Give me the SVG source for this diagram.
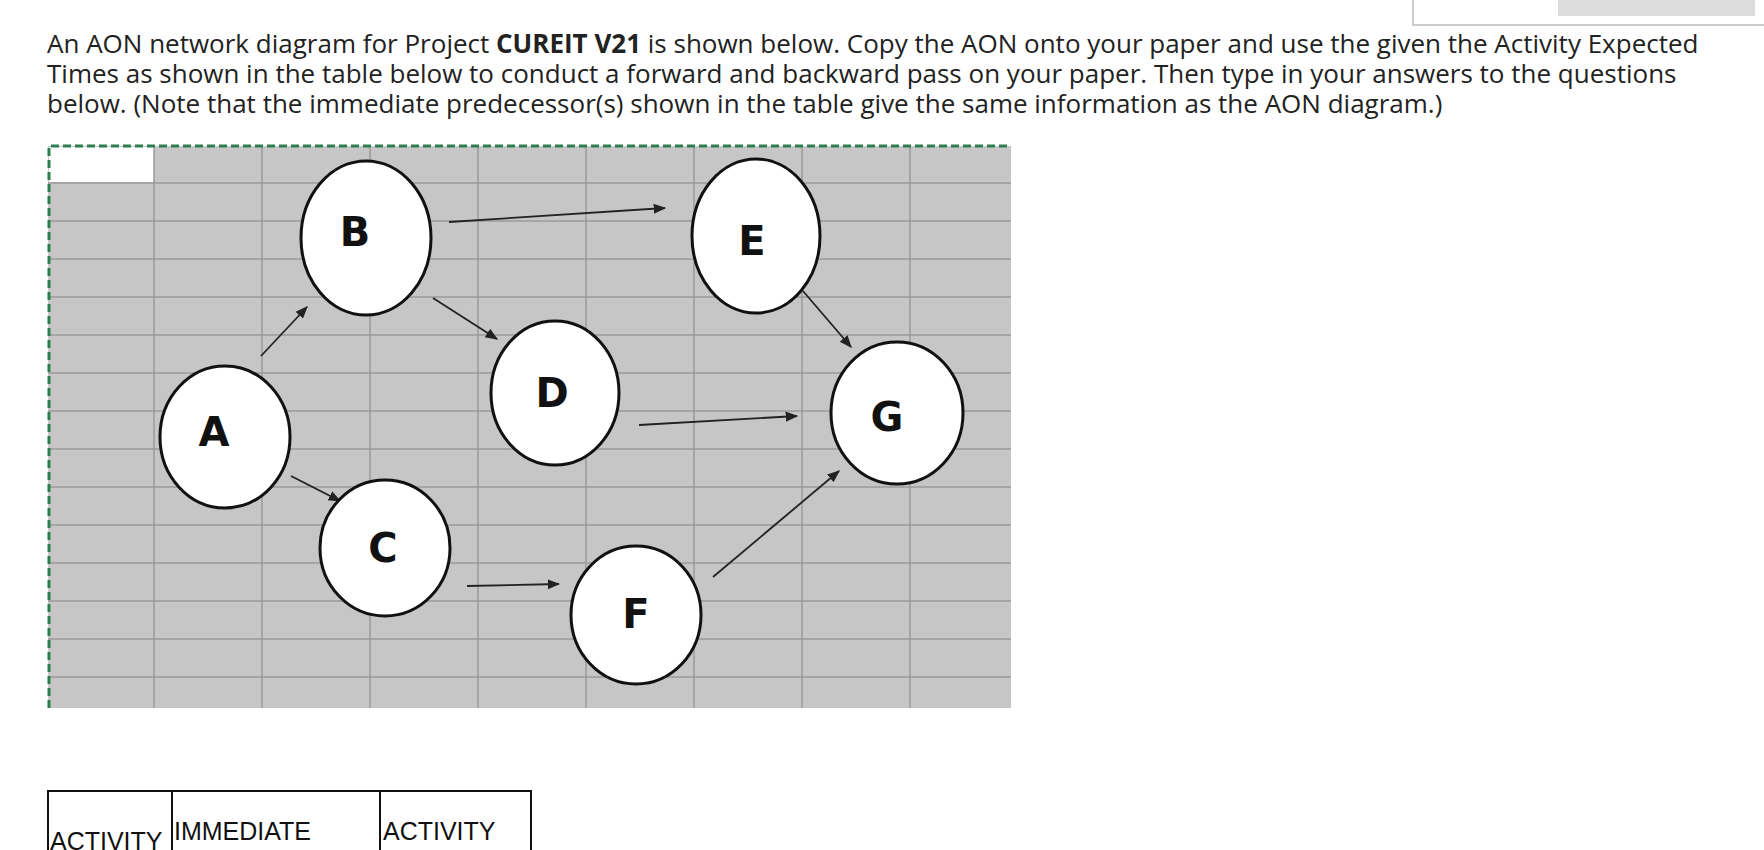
<svg xmlns="http://www.w3.org/2000/svg" width="1764" height="850" viewBox="0 0 1764 850">
<style>
.t{font-family:"Open Sans","Noto Sans",sans-serif;font-size:26px;fill:#222}
.tb{font-family:"Liberation Sans",Arial,sans-serif;font-size:25px;fill:#111}
.g{stroke:#9a9a9a;stroke-width:1.5}
.n ellipse{fill:#fff;stroke:#111;stroke-width:3}
.n text{font-family:"DejaVu Sans",sans-serif;font-size:40px;font-weight:bold;fill:#111;text-anchor:middle}
.c line{stroke:#222;stroke-width:1.8;marker-end:url(#ah)}
</style>
<defs><marker id="ah" viewBox="0 0 10 10" refX="9" refY="5" markerWidth="7" markerHeight="7" orient="auto"><path d="M0,1 L10,5 L0,9 z" fill="#222"/></marker></defs>
<rect width="1764" height="850" fill="#fff"/>
<rect x="1413" y="-2" width="353" height="27" fill="#fff" stroke="#bbb" stroke-width="1.5"/>
<rect x="1558" y="0" width="197" height="16" fill="#ddd"/>
<text class="t" x="47" y="53">An AON network diagram for Project <tspan font-weight="bold">CUREIT V21</tspan> is shown below. Copy the AON onto your paper and use the given the Activity Expected</text>
<text class="t" x="47" y="83">Times as shown in the table below to conduct a forward and backward pass on your paper. Then type in your answers to the questions</text>
<text class="t" x="47" y="113">below.  (Note that the immediate predecessor(s) shown in the table give the same information as the AON diagram.)</text>
<g id="grid">
<rect x="48" y="146" width="963" height="562" fill="#c6c6c6"/>
<rect x="49" y="147" width="105" height="35" fill="#fff"/>
<g class="g">
<line x1="154" y1="146" x2="154" y2="708"/><line x1="262" y1="146" x2="262" y2="708"/><line x1="370" y1="146" x2="370" y2="708"/><line x1="478" y1="146" x2="478" y2="708"/><line x1="586" y1="146" x2="586" y2="708"/><line x1="694" y1="146" x2="694" y2="708"/><line x1="802" y1="146" x2="802" y2="708"/><line x1="910" y1="146" x2="910" y2="708"/>
<line x1="48" y1="183" x2="1011" y2="183"/><line x1="48" y1="221" x2="1011" y2="221"/><line x1="48" y1="259" x2="1011" y2="259"/><line x1="48" y1="297" x2="1011" y2="297"/><line x1="48" y1="335" x2="1011" y2="335"/><line x1="48" y1="373" x2="1011" y2="373"/><line x1="48" y1="411" x2="1011" y2="411"/><line x1="48" y1="449" x2="1011" y2="449"/><line x1="48" y1="487" x2="1011" y2="487"/><line x1="48" y1="525" x2="1011" y2="525"/><line x1="48" y1="563" x2="1011" y2="563"/><line x1="48" y1="601" x2="1011" y2="601"/><line x1="48" y1="639" x2="1011" y2="639"/><line x1="48" y1="677" x2="1011" y2="677"/>
</g>
<path d="M49,708 V146 H1011" fill="none" stroke="#2e7d4f" stroke-width="3" stroke-dasharray="8,4"/>
</g>
<g class="c" id="connectors">
<line x1="449" y1="222" x2="665" y2="208"/>
<line x1="261" y1="356" x2="307" y2="307"/>
<line x1="433" y1="298" x2="497" y2="339"/>
<line x1="803" y1="291" x2="851" y2="347"/>
<line x1="639" y1="425" x2="797" y2="416"/>
<line x1="291" y1="476" x2="340" y2="501"/>
<line x1="467" y1="586" x2="559" y2="584"/>
<line x1="713" y1="577" x2="839" y2="471"/>
</g>
<g class="n" id="A"><ellipse cx="225" cy="437" rx="65" ry="71"/><text x="214" y="446">A</text></g>
<g class="n" id="B"><ellipse cx="366" cy="238" rx="65" ry="77"/><text x="355" y="246">B</text></g>
<g class="n" id="C"><ellipse cx="385" cy="548" rx="65" ry="68"/><text x="383" y="562">C</text></g>
<g class="n" id="D"><ellipse cx="555" cy="393" rx="64" ry="72"/><text x="552" y="407">D</text></g>
<g class="n" id="E"><ellipse cx="756" cy="236" rx="64" ry="77"/><text x="752" y="255">E</text></g>
<g class="n" id="F"><ellipse cx="636" cy="615" rx="65" ry="69"/><text x="636" y="628">F</text></g>
<g class="n" id="G"><ellipse cx="897" cy="413" rx="66" ry="71"/><text x="887" y="431">G</text></g>
<g id="table">
<path d="M48,852 V791 H531 V852 M172,791 V852 M380,791 V852" fill="none" stroke="#111" stroke-width="2"/>
<text class="tb" x="50" y="850">ACTIVITY</text>
<text class="tb" x="174" y="840">IMMEDIATE</text>
<text class="tb" x="383" y="840">ACTIVITY</text>
</g>
</svg>
